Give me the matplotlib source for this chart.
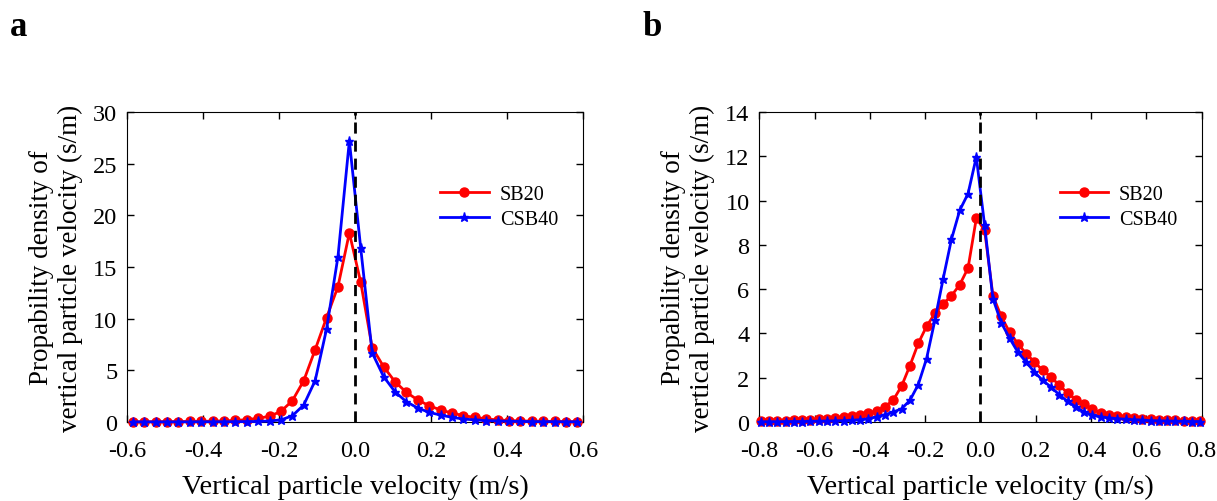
import numpy as np
import matplotlib.pyplot as plt

plt.rcParams['font.family'] = ['Liberation Serif', 'DejaVu Serif']
plt.rcParams['mathtext.fontset'] = 'stix'

# panel a: bin centres -0.585 ... 0.585, step 0.03
v_a = np.round(np.arange(-0.585, 0.586, 0.03), 3)
sb20_a = [0.02, 0.02, 0.03, 0.03, 0.04, 0.05, 0.06, 0.08, 0.10, 0.15,
          0.22, 0.36, 0.55, 1.03, 2.06, 4.0, 7.0, 10.1, 13.1, 18.3,
          13.5, 7.2, 5.36, 3.9, 2.87, 2.13, 1.58, 1.16, 0.87, 0.61,
          0.45, 0.30, 0.20, 0.14, 0.10, 0.08, 0.06, 0.05, 0.04, 0.03]
csb40_a = [0.01, 0.01, 0.01, 0.01, 0.01, 0.01, 0.02, 0.02, 0.02, 0.03,
           0.04, 0.05, 0.10, 0.20, 0.60, 1.65, 4.0, 9.0, 16.0, 27.2,
           16.8, 6.7, 4.4, 2.93, 1.96, 1.35, 0.93, 0.67, 0.45, 0.29,
           0.20, 0.14, 0.10, 0.07, 0.05, 0.04, 0.03, 0.03, 0.02, 0.02]

# panel b: bin centres -0.795 ... 0.795, step 0.03
v_b = np.round(np.arange(-0.795, 0.796, 0.03), 3)
sb20_b = [0.03, 0.04, 0.05, 0.06, 0.07, 0.09, 0.10, 0.12, 0.15, 0.18,
          0.23, 0.27, 0.33, 0.40, 0.50, 0.69, 1.0, 1.63, 2.55, 3.55,
          4.32, 4.9, 5.34, 5.7, 6.2, 6.95, 9.2,
          8.66, 5.7, 4.77, 4.06, 3.54, 3.09, 2.71, 2.33, 2.03, 1.66,
          1.31, 1.01, 0.80, 0.57, 0.42, 0.33, 0.27, 0.23, 0.18, 0.15,
          0.12, 0.10, 0.09, 0.07, 0.06, 0.05, 0.04]
csb40_b = [0.01, 0.01, 0.01, 0.02, 0.02, 0.02, 0.03, 0.03, 0.04, 0.05,
           0.06, 0.07, 0.10, 0.15, 0.23, 0.33, 0.45, 0.60, 0.98, 1.69,
           2.86, 4.59, 6.47, 8.25, 9.56, 10.31, 11.97,
           8.88, 5.57, 4.49, 3.79, 3.16, 2.71, 2.26, 1.88, 1.58, 1.23,
           0.93, 0.68, 0.45, 0.30, 0.23, 0.18, 0.15, 0.12, 0.10, 0.08,
           0.06, 0.05, 0.04, 0.03, 0.03, 0.02, 0.02]

fig = plt.figure(figsize=(12.17, 5.02), dpi=100)
ax1 = fig.add_axes([0.1044, 0.1574, 0.3747, 0.6175])
ax2 = fig.add_axes([0.6239, 0.1574, 0.3635, 0.6175])

panels = [
    (ax1, v_a, sb20_a, csb40_a, (-0.6, 0.6), (0, 30), np.arange(0, 31, 5),
     ['-0.6', '-0.4', '-0.2', '0.0', '0.2', '0.4', '0.6']),
    (ax2, v_b, sb20_b, csb40_b, (-0.8, 0.8), (0, 14), np.arange(0, 15, 2),
     ['-0.8', '-0.6', '-0.4', '-0.2', '0.0', '0.2', '0.4', '0.6', '0.8']),
]

for ax, v, sb, csb, xl, yl, yt, xtl in panels:
    ax.plot(v, sb, color='red', lw=2, marker='o', ms=6.5, label='SB20',
            clip_on=False, zorder=3)
    ax.plot(v, csb, color='blue', lw=2, marker='*', ms=6.5, label='CSB40',
            clip_on=False, zorder=4)
    ax.axvline(0, color='black', ls=(0, (4, 2.5)), lw=2, zorder=5)
    ax.set_xlim(*xl)
    ax.set_ylim(*yl)
    ax.set_xticks(np.linspace(xl[0], xl[1], len(xtl)))
    ax.set_xticklabels(xtl)
    ax.set_yticks(yt)
    ax.tick_params(direction='in', top=True, right=True, labelsize=17.5,
                   length=5, width=1)
    ax.tick_params(axis='x', pad=13)
    ax.tick_params(axis='y', pad=7)
    ax.set_xlabel('Vertical particle velocity (m/s)', fontsize=20.5, labelpad=9)
    ax.set_ylabel('Propability density of\nvertical particle velocity (s/m)',
                  fontsize=19.5, linespacing=1.2, labelpad=7)
    ax.legend(loc='upper right', bbox_to_anchor=(0.945, 0.765), frameon=False,
              fontsize=14.5, handlelength=2.4, handletextpad=0.55,
              labelspacing=0.3, borderpad=0, borderaxespad=0)

fig.text(0.008, 0.945, 'a', fontsize=25, fontweight='bold', va='center')
fig.text(0.528, 0.945, 'b', fontsize=25, fontweight='bold', va='center')

fig.savefig('out.png', dpi=100)
